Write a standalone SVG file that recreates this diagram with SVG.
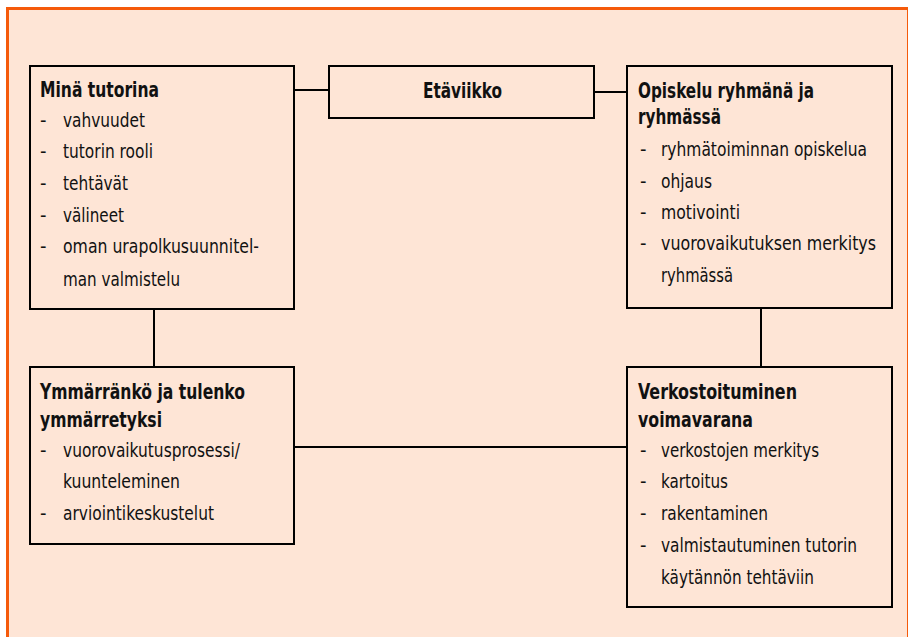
<svg xmlns="http://www.w3.org/2000/svg" width="908" height="637" viewBox="0 0 908 637">
<style>
text{font-family:"Liberation Sans Narrow","DejaVu Sans Condensed","Liberation Sans",sans-serif;fill:#111;}
.t{font-size:21px;font-weight:bold;}
.i{font-size:20px;}
.box{fill:none;stroke:#000;stroke-width:2;}
.con{fill:none;stroke:#000;stroke-width:2;}
</style>
<rect x="0" y="0" width="908" height="637" fill="#ffffff"/>
<rect x="7.5" y="8.5" width="901" height="630" fill="#fee5d6" stroke="#f55a0a" stroke-width="3"/>
<g id="connectors">
<line class="con" x1="294" y1="90" x2="329" y2="90"/>
<line class="con" x1="594" y1="92" x2="627" y2="92"/>
<line class="con" x1="154" y1="309" x2="154" y2="367"/>
<line class="con" x1="761" y1="308" x2="761" y2="367"/>
<line class="con" x1="294" y1="447" x2="627" y2="447"/>
</g>
<g id="mina">
<rect class="box" x="30" y="66" width="264" height="243"/>
<text class="t" x="40" y="97" textLength="119" lengthAdjust="spacingAndGlyphs">Minä tutorina</text>
<text class="i" x="40" y="127">-</text><text class="i" x="63" y="127" textLength="82" lengthAdjust="spacingAndGlyphs">vahvuudet</text>
<text class="i" x="40" y="158">-</text><text class="i" x="63" y="158" textLength="90" lengthAdjust="spacingAndGlyphs">tutorin rooli</text>
<text class="i" x="40" y="190">-</text><text class="i" x="63" y="190" textLength="65" lengthAdjust="spacingAndGlyphs">tehtävät</text>
<text class="i" x="40" y="222">-</text><text class="i" x="63" y="222" textLength="61" lengthAdjust="spacingAndGlyphs">välineet</text>
<text class="i" x="40" y="253">-</text><text class="i" x="63" y="253" textLength="196" lengthAdjust="spacingAndGlyphs">oman urapolkusuunnitel-</text>
<text class="i" x="63" y="286" textLength="117" lengthAdjust="spacingAndGlyphs">man valmistelu</text>
</g>
<g id="etaviikko">
<rect class="box" x="329" y="66" width="265" height="52"/>
<text class="t" x="423" y="98" textLength="79" lengthAdjust="spacingAndGlyphs">Etäviikko</text>
</g>
<g id="opiskelu">
<rect class="box" x="627" y="66" width="265" height="242"/>
<text class="t" x="638" y="98" textLength="176" lengthAdjust="spacingAndGlyphs">Opiskelu ryhmänä ja</text>
<text class="t" x="638" y="124" textLength="83" lengthAdjust="spacingAndGlyphs">ryhmässä</text>
<text class="i" x="640" y="156">-</text><text class="i" x="661" y="156" textLength="206" lengthAdjust="spacingAndGlyphs">ryhmätoiminnan opiskelua</text>
<text class="i" x="640" y="188">-</text><text class="i" x="661" y="188" textLength="51" lengthAdjust="spacingAndGlyphs">ohjaus</text>
<text class="i" x="640" y="219">-</text><text class="i" x="661" y="219" textLength="79" lengthAdjust="spacingAndGlyphs">motivointi</text>
<text class="i" x="640" y="250">-</text><text class="i" x="661" y="250" textLength="215" lengthAdjust="spacingAndGlyphs">vuorovaikutuksen merkitys</text>
<text class="i" x="661" y="282" textLength="72" lengthAdjust="spacingAndGlyphs">ryhmässä</text>
</g>
<g id="ymmarranko">
<rect class="box" x="30" y="367" width="264" height="177"/>
<text class="t" x="40" y="399" textLength="205" lengthAdjust="spacingAndGlyphs">Ymmärränkö ja tulenko</text>
<text class="t" x="40" y="427" textLength="122" lengthAdjust="spacingAndGlyphs">ymmärretyksi</text>
<text class="i" x="40" y="457">-</text><text class="i" x="63" y="457" textLength="177" lengthAdjust="spacingAndGlyphs">vuorovaikutusprosessi/</text>
<text class="i" x="63" y="488" textLength="117" lengthAdjust="spacingAndGlyphs">kuunteleminen</text>
<text class="i" x="40" y="520">-</text><text class="i" x="63" y="520" textLength="151" lengthAdjust="spacingAndGlyphs">arviointikeskustelut</text>
</g>
<g id="verkosto">
<rect class="box" x="627" y="367" width="265" height="240"/>
<text class="t" x="638" y="399" textLength="159" lengthAdjust="spacingAndGlyphs">Verkostoituminen</text>
<text class="t" x="638" y="427" textLength="115" lengthAdjust="spacingAndGlyphs">voimavarana</text>
<text class="i" x="640" y="457">-</text><text class="i" x="661" y="457" textLength="158" lengthAdjust="spacingAndGlyphs">verkostojen merkitys</text>
<text class="i" x="640" y="488">-</text><text class="i" x="661" y="488" textLength="67" lengthAdjust="spacingAndGlyphs">kartoitus</text>
<text class="i" x="640" y="520">-</text><text class="i" x="661" y="520" textLength="107" lengthAdjust="spacingAndGlyphs">rakentaminen</text>
<text class="i" x="640" y="552">-</text><text class="i" x="661" y="552" textLength="196" lengthAdjust="spacingAndGlyphs">valmistautuminen tutorin</text>
<text class="i" x="661" y="584" textLength="153" lengthAdjust="spacingAndGlyphs">käytännön tehtäviin</text>
</g>
</svg>
